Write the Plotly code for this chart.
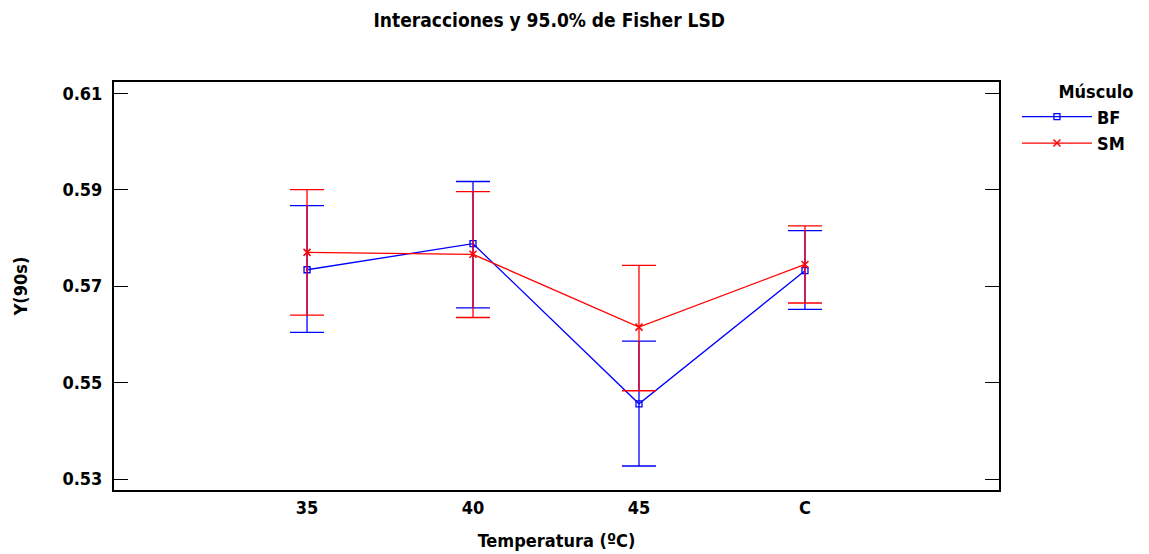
import plotly.graph_objects as go

categories = ["35", "40", "45", "C"]
bf_mean = [0.5734, 0.5788, 0.5456, 0.5732]
bf_upper = [0.5867, 0.5917, 0.5586, 0.5815]
bf_lower = [0.5604, 0.5655, 0.5327, 0.5652]
sm_mean = [0.5770, 0.5766, 0.5615, 0.5745]
sm_upper = [0.5900, 0.5896, 0.5743, 0.5825]
sm_lower = [0.5640, 0.5635, 0.5483, 0.5665]
y_ticks = [0.53, 0.55, 0.57, 0.59, 0.61]

FONT = "Liberation Sans Narrow, Arial Narrow, DejaVu Sans Condensed, Liberation Sans, Arial"
xidx = list(range(len(categories)))

def err(mean, up, lo):
    return dict(type="data", symmetric=False,
                array=[u - m for u, m in zip(up, mean)],
                arrayminus=[m - l for m, l in zip(mean, lo)])

fig = go.Figure()
fig.add_trace(go.Scatter(
    x=xidx, y=bf_mean, name="<b>BF</b>", mode="lines+markers",
    line=dict(color="#0000ff", width=1.3),
    marker=dict(symbol="square-open", size=6, color="#0000ff", line=dict(width=1.3)),
    error_y=dict(**err(bf_mean, bf_upper, bf_lower), color="#0000ff", thickness=1.3, width=17),
))
fig.add_trace(go.Scatter(
    x=xidx, y=sm_mean, name="<b>SM</b>", mode="lines+markers",
    line=dict(color="#ff0000", width=1.3),
    marker=dict(symbol="x-thin", size=7, color="#ff0000", line=dict(width=1.5, color="#ff0000")),
    error_y=dict(**err(sm_mean, sm_upper, sm_lower), color="#ff0000", thickness=1.3, width=17),
))

fig.update_layout(
    width=1149, height=554,
    margin=dict(l=114, r=150, t=82, b=64),
    paper_bgcolor="white", plot_bgcolor="white",
    font=dict(family=FONT, color="black"),
    title=dict(text="<b>Interacciones y 95.0% de Fisher LSD</b>", x=0.478, xanchor="center",
               y=0.963, yanchor="middle", font=dict(size=19, family=FONT)),
    showlegend=True,
    legend=dict(x=1.0203, y=1.017, xanchor="left", yanchor="top",
                title=dict(text="<b>       Músculo</b>", font=dict(size=18, family=FONT), side="top"),
                font=dict(size=18, family=FONT), bgcolor="rgba(0,0,0,0)",
                tracegroupgap=0, itemwidth=70),
    xaxis=dict(
        range=[-1.163, 4.169], tickmode="array", tickvals=xidx,
        ticktext=[f"<b>{c}</b>" for c in categories], automargin=False,
        tickfont=dict(size=18, family=FONT), ticks="", showgrid=False, zeroline=False,
        showline=True, linecolor="black", linewidth=2, mirror=True,
        title=dict(text="<b>Temperatura (ºC)</b>", font=dict(size=18, family=FONT), standoff=18),
    ),
    yaxis=dict(
        range=[0.52772, 0.61234], tickmode="array", tickvals=y_ticks,
        ticktext=[f"<b>{v:.2f}</b>" for v in y_ticks], automargin=False,
        tickfont=dict(size=18, family=FONT), ticks="inside", ticklen=14, tickwidth=1.3,
        tickcolor="black", showgrid=False, zeroline=False, ticklabelstandoff=6,
        showline=True, linecolor="black", linewidth=2, mirror="ticks",
        title=dict(text="<b>Y(90s)</b>", font=dict(size=18, family=FONT), standoff=30),
    ),
)

fig.write_html("out.html", config={"displayModeBar": False},
               post_script="document.body.style.margin='0';")
